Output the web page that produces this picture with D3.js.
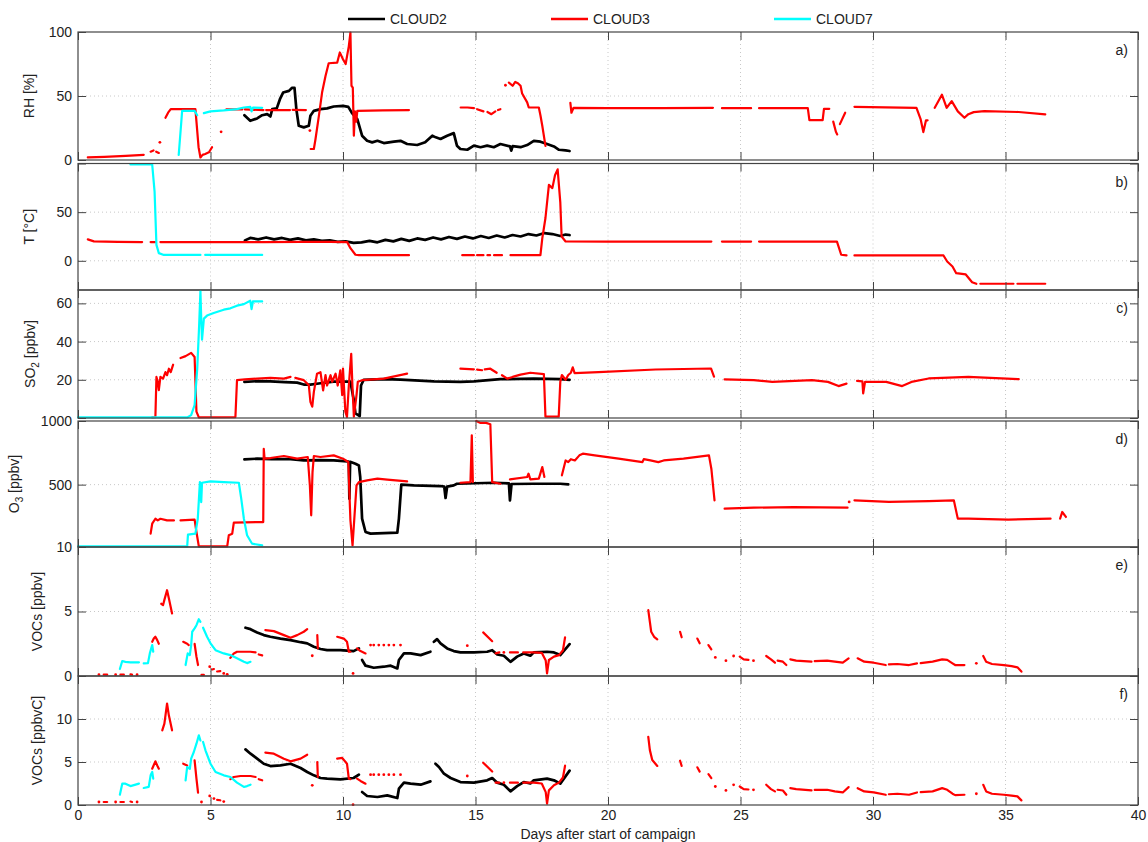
<!DOCTYPE html>
<html>
<head>
<meta charset="utf-8">
<script src="https://cdn.jsdelivr.net/npm/d3@7"></script>
<style>
  body { margin: 0; background: #fff; }
  text { font-family: "Liberation Sans", Arial, Helvetica, sans-serif; fill: #222; }
</style>
</head>
<body>
<svg id="chart" width="1148" height="842"></svg>
<script>

// series names and colours (legend order = draw order)
var seriesNames = ['CLOUD2', 'CLOUD3', 'CLOUD7'];
var seriesColors = ['#000000', '#ff0000', '#00ffff'];
var seriesWidths = [2.7, 2.2, 2.2];

var xTicks = [0, 5, 10, 15, 20, 25, 30, 35, 40];
var xLabel = 'Days after start of campaign';

// ---- a) RH [%] ----  [day, value], null = gap
var rhCloud2 = [[6.28,35],[6.5,30.6],[6.76,32.5],[6.95,35],[7.14,35.8],[7.26,34],[7.33,39.7],[7.5,40.3],[7.62,47.5],[7.74,52.7],[7.96,54],[8.08,56.4],[8.17,56.4],[8.24,39.7],[8.33,26.8],[8.52,25.5],[8.71,26.8],[8.77,34.5],[8.9,38.4],[9.15,39.7],[9.4,40.3],[9.65,41.8],[10.0,42.3],[10.2,41.5],[10.34,36.6],[10.54,32],[10.72,19],[10.91,15],[11.1,13.8],[11.3,15],[11.54,13.2],[11.92,14.3],[12.17,15],[12.42,12.5],[12.8,11.7],[13.1,13.8],[13.37,19],[13.5,17.7],[13.68,16.4],[13.93,19],[14.18,21],[14.3,11.2],[14.43,8.6],[14.69,8],[14.94,11.2],[15.19,10],[15.44,11.2],[15.69,10],[15.94,12.5],[16.3,10.6],[16.35,7.3],[16.4,10.8],[16.7,10],[16.95,11.7],[17.2,15],[17.45,14.3],[17.7,12.5],[17.96,10.6],[18.15,8],[18.4,7.5],[18.55,7]];
var rhCloud3 = [[0.37,2],[1.0,2.5],[1.8,3.2],[2.48,4],null,[2.74,6.5],[2.85,7.5],null,[2.95,6.5],[3.05,5.5],null,[3.09,13.8],null,
  [3.3,33],[3.4,37],[3.5,39.7],[4.43,39.7],[4.47,30],[4.55,10],[4.62,2],[4.7,4],[4.8,4.7],[4.94,6],[5.0,8],[5.06,10],null,[5.4,22],null,
  [5.6,39.5],[6.2,39.5],null,[6.3,39.5],[7.0,39],null,[7.1,39],[8.0,39],null,[8.1,39.2],[8.6,39],null,[8.75,23],null,
  [8.78,8.6],[8.9,8.6],[8.96,16],[9.09,34.5],[9.21,52.7],[9.34,65.7],[9.46,75.6],[9.78,76],[9.88,84],[10.0,78.7],[10.1,75],[10.22,89],[10.28,99.5],[10.32,58],[10.37,56.6],[10.39,38],[10.41,19],[10.45,38],[10.5,30],[10.54,38.4],[11.5,38.8],[12.49,39],null,
  [14.44,41],[14.7,41],[14.94,40.5],null,[15.06,39.7],[15.3,38],null,[15.45,37.5],[15.6,35.8],[15.75,38],null,[15.85,39],[15.94,39.7],null,
  [16.13,58.4],null,[16.26,60.5],[16.4,58],[16.5,61],[16.6,60],[16.7,58],[16.76,52],[16.95,45],[17.01,41],[17.39,41],[17.45,35],[17.52,26.8],[17.64,11],null,
  [18.58,44.7],[18.62,36.9],[18.7,40.8],[20,40.5],[22,40.5],[23.96,40.8],null,[24.3,40.5],[25.4,40.5],null,[25.7,40.5],[27.54,40.5],[27.6,31.2],[28.1,31.2],[28.15,40],[28.35,40],null,
  [28.5,30],[28.6,22],[28.65,20],null,[28.75,28],[28.95,36.9],null,
  [29.3,41.5],[31.64,40.8],[31.8,31.7],[31.9,21.8],[32.0,31],[32.06,31],null,
  [32.33,40.8],[32.6,51],[32.78,40.8],[32.97,46],[33.2,38],[33.45,33],[33.6,35.8],[33.8,37.4],[34.2,38.2],[35.5,37.5],[36.5,35.6]];
var rhCloud7 = [[3.8,3.9],[3.88,25],[3.93,38.4],[4.4,38.4],[4.5,35],null,[4.75,36.6],[5.0,38],[5.5,38.7],[6.0,39.7],[6.26,41],[6.5,41.5],[6.55,38],[6.6,41],[6.95,40.8]];

// ---- b) T [°C] ----
var tCloud2 = [[6.3,21],[6.5,23.5],[6.8,22],[7.1,24],[7.4,22],[7.7,23.5],[8.0,21.5],[8.3,23],[8.6,21],[8.9,22],[9.2,20.5],[9.5,21],[9.8,19.5],[10.1,20],[10.4,18.5],[10.7,19],[11.0,20.5],[11.3,19],[11.6,21.5],[11.9,20],[12.2,22.5],[12.5,20.5],[12.8,23],[13.1,21.5],[13.4,24],[13.7,22],[14.0,24.5],[14.3,22.5],[14.6,25],[14.9,23],[15.2,25.5],[15.5,23.5],[15.8,26],[16.1,24],[16.4,26.5],[16.7,25],[17.0,27.5],[17.3,26],[17.6,28.5],[17.9,27.5],[18.2,25.5],[18.4,27],[18.55,26.5]];
var tCloud3 = [[0.37,22],[0.6,20],[1.5,19.5],[2.42,19.3],null,[2.74,19.3],[2.92,19.3],null,[3.11,19.3],[5,19.2],[7,19.2],[8.4,19.5],[9.5,19.5],[10.16,19.2],[10.28,13],[10.47,6.2],[10.6,5.8],[12.49,5.8],null,
  [14.5,5.8],[14.94,5.8],null,[15.06,5.8],[15.3,5.8],null,[15.45,5.8],[15.55,5.8],null,[15.7,5.8],[16.0,5.8],null,[16.32,5.8],[17.45,5.8],[17.52,23],[17.64,44],[17.77,78],[17.9,74.7],[18.0,88],[18.1,94],[18.2,60],[18.25,25],[18.4,19.9],[20,19.8],[23.9,19.8],null,
  [24.3,19.8],[25.4,19.8],null,[25.7,19.8],[28.64,19.8],[28.8,6.2],[29.0,5.5],null,[29.3,5.5],[32.66,5.5],[32.8,-0.7],[33.0,-5.8],[33.14,-12.7],[33.5,-14],[33.74,-22],[33.9,-23.6],null,[34.05,-23.6],[35.3,-23.6],null,[35.45,-23.6],[36.5,-23.6]];
var tCloud7 = [[1.98,99],[2.8,99],[2.89,71],[2.96,16.4],[3.05,7.9],[3.24,6],[4.62,6],null,[4.8,6],[6.95,6]];

// ---- c) SO2 [ppbv] ----
var so2Cloud2 = [[6.28,18.9],[6.8,19.3],[7.26,19.2],[7.8,18.8],[8.27,18.5],[8.52,17.5],[8.77,17.5],[9.15,18.2],[9.65,19],[10.28,19],[10.4,10],[10.47,2.4],[10.63,1],[10.68,17],[10.78,20],[11.54,20.3],[12.17,20.1],[13.43,19.2],[14.43,18.9],[14.94,19.2],[15.94,20.3],[17.2,20.6],[18.2,20.3],[18.55,20]];
var so2Cloud3 = [[2.8,0.3],[2.92,0.4],[2.96,21.5],[3.01,19],[3.05,14.6],[3.11,21.5],[3.21,20.6],[3.3,24],[3.36,22.4],[3.43,25.8],[3.5,24],[3.59,27.9],null,
  [3.87,31.4],[4.06,32.4],[4.27,34.1],[4.4,31.9],[4.47,3.3],[4.56,0.3],[5.94,0.5],[6.0,19.8],[6.3,20.2],[6.76,20.6],[7.26,21],[7.77,20.6],[8.02,21.5],null,
  [8.2,21],[8.52,19.8],[8.71,17.2],[8.77,8.5],[8.84,5.9],[8.9,13.7],[9.02,23.2],[9.15,24],[9.25,14.5],[9.34,22.4],[9.4,17],[9.53,22.4],[9.59,19],[9.72,23.2],[9.8,17],[9.9,25],[9.97,12],[10.0,25.8],[10.09,3.3],[10.15,0.5],[10.22,17],[10.31,33.6],[10.36,15.4],[10.41,0.7],[10.51,12],[10.56,19],[10.72,19.8],[11.54,20.6],[12.42,23.2],null,
  [14.43,25.8],[14.94,25.5],null,[15.06,25.3],[15.25,25],null,[15.35,25.5],[15.56,25.8],[15.8,23.7],null,[16.0,22.4],[16.2,20.6],[16.4,21.5],[16.7,22.7],[17.07,23.7],[17.58,23],[17.64,0.7],[18.14,0.7],[18.2,19],[18.26,22.5],[18.4,20],[18.5,22.5],[18.6,23.7],[18.67,26.5],[18.74,23.5],[19.64,24],[21.8,25.4],[23.89,25.9],[24.0,21.6],null,
  [24.4,20.2],[25.5,19.8],[26.2,18.9],[27.7,19.8],[28.3,18.9],[28.7,16.7],[29.0,18],null,
  [29.4,19.4],[29.6,19.2],[29.63,12.9],[29.7,18.9],[30.5,18.9],[31.1,16.7],[31.45,18.9],[32.1,20.7],[33.6,21.5],[35.5,20.3]];
var so2Cloud7 = [[0,0.3],[4.12,0.3],[4.27,1.5],[4.4,6.8],[4.5,26],[4.57,48],[4.62,66.5],[4.65,52],[4.68,41],[4.75,52],[4.87,53.6],[5.12,55],[5.5,56.7],[5.75,57.4],[6.0,58.8],[6.26,59.6],[6.5,61.4],[6.55,57],[6.6,61],[6.95,61]];

// ---- d) O3 [ppbv] ----
var o3Cloud2 = [[6.28,698],[6.76,704],[7.3,700],[8.02,700],[8.52,690],[9.15,692],[9.65,690],[10.16,683],[10.22,680],[10.24,390],[10.27,680],[10.47,664],[10.6,651],[10.65,560],[10.72,233],[10.85,128],[11.04,115],[12.05,123],[12.11,233],[12.2,500],[12.67,494],[13.68,489],[13.82,485],[13.87,395],[13.93,485],[14.18,494],[14.3,507],[15.7,515],[16.26,510],[16.3,377],[16.36,505],[17.2,507],[18.2,507],[18.5,502]];
var o3Cloud3 = [[2.74,115],[2.8,193],[2.92,232],[3.01,219],[3.11,232],[3.36,219],[3.62,219],null,
  [3.87,219],[4.4,225],[4.47,128],[4.56,15],[5.63,15],[5.69,102],[5.82,115],[5.88,201],[6.76,206],[6.99,206],[7.01,782],[7.04,704],[7.26,709],[7.77,725],[8.27,704],[8.67,717],[8.75,494],[8.8,259],[8.85,599],[8.9,725],[9.15,717],[9.65,730],[10.0,704],[10.2,678],[10.28,220],[10.36,23],[10.51,494],[10.6,520],[10.91,533],[11.3,547],[11.67,540],[12.42,526],null,
  [14.43,515],[14.81,520],[14.86,887],[14.9,520],null,[15.03,1000],[15.19,985],[15.4,985],[15.56,975],[15.63,520],[15.94,507],null,
  [16.3,541],[16.95,560],[17.0,586],[17.07,541],[17.39,547],[17.52,638],[17.6,560],null,
  [18.26,573],[18.4,690],[18.5,677],[18.6,700],[18.75,690],[18.92,730],[19.05,743],[19.5,730],[20.4,704],[21.3,677],[21.35,700],[21.6,690],[21.9,677],[22.1,690],[22.85,704],[23.81,730],[23.9,625],[24.02,377],null,
  [24.4,311],[25.5,319],[27.0,324],[29.04,319],null,[29.1,364],null,
  [29.3,377],[30.6,364],[32.1,371],[33.05,377],[33.2,233],[33.6,233],[35.1,225],[36.7,233],null,
  [37.06,233],[37.14,285],[37.28,246]];
var o3Cloud7 = [[0,15],[4.12,15],[4.15,107],[4.43,115],[4.52,232],[4.6,520],[4.65,363],[4.68,515],[5.0,526],[5.5,520],[6.07,515],[6.16,390],[6.26,232],[6.38,102],[6.57,36],[6.95,23]];

// ---- e) VOCs [ppbv] ----
var vocCloud2 = [[6.32,3.74],[6.51,3.63],[6.76,3.37],[7.01,3.17],[7.26,3.04],[7.64,2.9],[8.02,2.78],[8.4,2.62],[8.65,2.53],[8.9,2.27],[9.15,2.09],[9.4,2.0],[9.9,2.0],[10.4,1.93],[10.6,2.14],null,
  [10.72,1.24],[10.85,0.8],[11.16,0.64],[11.54,0.72],[11.8,0.8],[12.05,0.59],[12.11,1.24],[12.3,1.75],[12.55,1.75],[12.93,1.62],[13.3,1.88],null,
  [13.43,2.65],[13.55,2.86],[13.68,2.53],[13.93,2.14],[14.18,1.93],[14.43,1.83],[14.94,1.83],[15.44,1.88],[15.63,2.0],[15.82,1.67],[16.07,1.57],[16.32,1.1],[16.57,1.5],[16.82,1.75],[17.07,1.57],[17.2,1.83],[17.7,1.88],[17.96,1.83],[18.2,1.62],[18.55,2.47]];
var vocCloud3 = [[0.79,0.1],null,[0.97,0.1],[1.1,0.1],null,[1.42,0.1],null,[1.6,0.1],[1.73,0.1],null,[1.98,0.12],[2.04,0.1],null,[2.23,0.1],null,
  [2.8,2.65],[2.86,2.9],[2.92,3.04],[2.99,2.78],[3.05,2.5],null,
  [3.14,5.6],[3.21,5.5],[3.26,5.9],[3.36,6.65],[3.43,6.0],[3.55,4.85],null,
  [3.97,2.65],[4.12,2.5],[4.18,2.4],null,[4.4,2.5],[4.47,1.5],[4.53,0.85],null,
  [4.66,0.08],[4.75,0.08],null,[4.97,0.72],null,[5.06,0.5],[5.13,0.54],null,[5.25,0.35],[5.37,0.38],null,[5.5,0.2],null,[5.63,0.13],null,
  [5.75,1.4],[5.88,1.75],[6.0,1.88],[6.5,1.88],[6.7,1.83],null,[6.82,1.67],[6.95,1.6],null,
  [7.07,3.55],[7.39,3.48],[7.77,3.17],[8.02,2.96],[8.27,3.17],[8.52,3.43],[8.65,3.63],null,
  [8.84,1.57],null,[9.03,3.17],[9.05,2.14],null,
  [9.78,3.04],[10.03,2.9],[10.15,2.65],[10.22,1.88],[10.28,1.88],null,[10.38,0.2],null,
  [10.53,2.14],[10.66,1.93],[10.85,1.75],null,
  [11.04,2.4],null,[11.16,2.4],null,[11.35,2.4],null,[11.54,2.4],null,[11.73,2.4],null,[11.92,2.4],null,[12.17,2.4],null,
  [14.69,2.35],null,[15.29,3.38],[15.63,2.7],null,
  [15.76,1.75],[15.9,1.83],null,[16.07,1.83],null,[16.3,1.83],[16.6,1.83],null,[16.8,1.83],[17.2,1.83],[17.5,1.8],[17.65,1.2],[17.7,0.2],[17.77,1.24],[17.96,1.5],[18.15,1.62],[18.3,2.0],[18.38,3.0],null,
  [21.52,5.1],[21.58,4.2],[21.63,3.43],[21.74,3.04],[21.86,2.84],null,
  [22.72,3.43],[22.78,3.0],null,[23.37,2.9],[23.46,2.53],null,[23.79,2.4],[23.9,2.06],null,[24.05,1.44],null,[24.45,1.19],null,
  [24.74,1.55],null,[24.97,1.5],[25.12,1.29],[25.3,1.25],null,[25.49,1.19],null,
  [25.97,1.55],[26.15,1.29],[26.3,1.03],null,[26.4,1.19],[26.6,1.11],[26.73,0.85],null,
  [26.88,1.29],[27.1,1.19],[27.68,1.11],null,[27.8,1.15],[28.27,1.19],[28.56,1.11],[28.86,1.03],[29.08,1.37],null,
  [29.42,1.37],[29.67,1.11],[30.03,1.03],[30.48,0.85],null,[30.6,0.9],[30.92,0.93],[31.36,0.85],[31.66,0.98],null,
  [31.8,1.0],[32.25,1.11],[32.61,1.29],[32.8,1.25],[33.0,0.98],[33.1,0.85],[33.45,0.85],null,[33.9,0.98],null,
  [34.16,1.55],[34.27,1.11],[34.49,0.93],[34.94,0.85],[35.23,0.77],[35.45,0.67],[35.6,0.34]];
var vocCloud7 = [[1.58,0.54],[1.67,1.16],[1.79,1.1],[1.98,1.06],[2.3,1.06],null,[2.48,0.98],[2.64,1.0],[2.71,1.75],[2.8,2.4],[2.84,1.88],null,
  [4.06,0.85],[4.14,1.75],[4.22,1.62],[4.27,2.4],[4.31,3.43],[4.4,3.69],[4.47,3.94],[4.56,4.4],[4.62,4.2],null,
  [4.72,3.74],[4.87,3.04],[5.0,2.53],[5.19,2.0],[5.5,1.75],[5.75,1.62],[6.0,1.37],[6.26,1.1],[6.38,1.0],[6.51,1.1]];

// ---- f) VOCs [ppbvC] ----
var vocCCloud2 = [[6.32,6.47],[6.51,5.97],[6.76,5.39],[7.01,4.8],[7.26,4.53],[7.64,4.6],[8.02,4.8],[8.4,4.3],[8.65,3.84],[8.9,3.45],[9.15,3.14],[9.4,3.06],[9.9,2.98],[10.4,3.14],[10.6,3.53],null,
  [10.72,1.51],[10.91,1.05],[11.3,0.93],[11.67,1.12],[12.05,0.81],[12.11,1.9],[12.3,2.6],[12.55,2.48],[12.93,2.36],[13.3,2.75],null,
  [13.49,4.8],[13.62,4.42],[13.81,3.64],[14.06,3.14],[14.43,2.67],[14.94,2.6],[15.44,2.87],[15.63,3.14],[15.82,2.6],[16.07,2.36],[16.32,1.59],[16.57,2.2],[16.82,2.67],[17.07,2.5],[17.2,2.87],[17.7,3.06],[17.96,2.87],[18.2,2.48],[18.55,4.0]];
var vocCCloud3 = [[0.79,0.35],null,[0.97,0.35],[1.1,0.35],null,[1.42,0.35],null,[1.6,0.35],[1.73,0.35],null,[1.98,0.4],[2.04,0.35],null,[2.23,0.35],null,
  [2.8,4.22],[2.92,5.08],[2.99,4.6],[3.05,4.22],null,
  [3.18,8.68],[3.26,9.46],[3.36,11.8],[3.43,10.4],[3.55,8.68],null,
  [3.97,4.8],[4.12,4.6],null,[4.4,5.2],[4.47,3.06],[4.53,1.43],null,
  [4.66,0.35],null,[4.97,1.05],null,[5.13,0.75],null,[5.25,0.6],[5.37,0.55],null,[5.5,0.4],null,
  [5.75,3.0],[5.88,3.26],[6.13,3.37],[6.51,3.37],[6.7,3.26],null,[6.82,3.0],[6.95,2.87],null,
  [7.07,6.08],[7.39,5.97],[7.77,5.39],[8.02,5.08],[8.4,5.39],[8.65,5.85],null,
  [8.84,2.29],null,[9.03,5.0],[9.05,3.26],null,
  [9.78,5.39],[9.97,5.47],[10.15,4.8],[10.22,3.06],[10.28,3.0],null,[10.38,0.04],null,
  [10.53,3.06],[10.66,2.8],[10.85,2.48],null,
  [11.04,3.53],null,[11.16,3.53],null,[11.35,3.53],null,[11.54,3.53],null,[11.73,3.53],null,[11.92,3.53],null,[12.17,3.53],null,
  [14.69,3.37],null,[15.29,4.92],[15.63,3.9],null,
  [15.76,2.6],[15.9,2.6],null,[16.07,2.6],null,[16.3,2.6],[16.6,2.6],null,[16.8,2.6],[17.2,2.6],[17.5,2.5],[17.65,1.5],[17.7,0.15],[17.77,1.7],[17.96,2.29],[18.15,2.6],[18.3,3.2],[18.38,4.57],null,
  [21.52,7.92],[21.58,6.38],[21.67,5.23],[21.86,4.54],null,[22.72,5.15],[22.78,4.54],null,
  [23.37,4.38],[23.46,3.88],null,[23.79,3.6],[23.9,3.12],null,[24.05,2.15],null,[24.45,1.69],null,
  [24.74,2.35],null,[24.97,2.15],[25.12,1.85],[25.3,1.8],null,[25.49,1.77],null,
  [25.97,2.35],[26.15,1.85],[26.3,1.58],null,[26.4,1.77],[26.6,1.69],[26.73,1.19],null,
  [26.88,1.96],[27.1,1.85],[27.68,1.69],null,[27.8,1.75],[28.27,1.77],[28.56,1.58],[28.86,1.46],[29.08,2.08],null,
  [29.42,1.96],[29.67,1.58],[30.03,1.46],[30.48,1.19],null,[30.6,1.25],[30.92,1.31],[31.36,1.19],[31.66,1.46],null,
  [31.8,1.5],[32.25,1.58],[32.61,1.96],[32.8,1.77],[33.0,1.31],[33.1,1.15],[33.45,1.19],null,[33.9,1.31],null,
  [34.16,2.35],[34.27,1.58],[34.49,1.31],[34.94,1.19],[35.23,1.08],[35.45,1.0],[35.6,0.54]];
var vocCCloud7 = [[1.58,1.2],[1.67,2.48],[1.79,2.48],[1.98,2.2],[2.3,2.48],null,[2.48,1.98],[2.67,2.1],[2.74,3.45],[2.8,3.84],[2.84,3.06],null,
  [4.06,2.87],[4.12,4.42],[4.22,4.2],[4.27,5.4],[4.37,6.16],[4.47,7.13],[4.56,8.1],[4.62,7.5],null,
  [4.72,7.33],[4.81,6.36],[5.0,4.8],[5.19,3.84],[5.5,3.45],[5.75,3.26],[6.0,2.6],[6.26,2.1],[6.38,2.2],[6.51,2.36]];


var svg = d3.select('#chart');
var left = 78, right = 1138;

var x = d3.scaleLinear().domain([0, 40]).range([left, right]);

// one entry per stacked axis
var panels = [
  { top: 32,    bottom: 160, domain: [0, 100],   ticks: [0, 50, 100],   labels: [0, 50, 100], tag: 'a)', title: ['RH [%]'],              tx: 34, series: [rhCloud2, rhCloud3, rhCloud7] },
  { top: 163.5, bottom: 290, domain: [-30, 100], ticks: [0, 50, 100],   labels: [0, 50],      tag: 'b)', title: ['T [°C]'],              tx: 34, series: [tCloud2, tCloud3, tCloud7] },
  { top: 290,   bottom: 418, domain: [0, 67],    ticks: [0, 20, 40, 60], labels: [20, 40, 60], tag: 'c)', title: ['SO', '2', ' [ppbv]'],  tx: 35, series: [so2Cloud2, so2Cloud3, so2Cloud7] },
  { top: 421,   bottom: 547, domain: [10, 1000], ticks: [10, 500, 1000], labels: [10, 500, 1000], tag: 'd)', title: ['O', '3', ' [ppbv]'], tx: 19, series: [o3Cloud2, o3Cloud3, o3Cloud7] },
  { top: 547,   bottom: 676, domain: [0, 10],    ticks: [0, 5, 10],     labels: [0, 5],       tag: 'e)', title: ['VOCs [ppbv]'],         tx: 42, series: [vocCloud2, vocCloud3, vocCloud7] },
  { top: 676,   bottom: 805, domain: [0, 15],    ticks: [0, 5, 10, 15], labels: [0, 5, 10],   tag: 'f)', title: ['VOCs [ppbvC]'],        tx: 42, series: [vocCCloud2, vocCCloud3, vocCCloud7] }
];

// split a [day,value]/null list into runs
function runs(arr) {
  var out = [], cur = [];
  arr.forEach(function(p) {
    if (p === null) { if (cur.length) out.push(cur); cur = []; }
    else cur.push(p);
  });
  if (cur.length) out.push(cur);
  return out;
}

panels.forEach(function(p, pi) {
  var y = d3.scaleLinear().domain(p.domain).range([p.bottom, p.top]);
  var g = svg.append('g');

  // dotted grid
  g.selectAll('.vgrid').data(xTicks.slice(1, -1)).enter().append('line')
      .attr('x1', function(d) { return x(d); }).attr('x2', function(d) { return x(d); })
      .attr('y1', p.top).attr('y2', p.bottom)
      .attr('stroke', '#c8c8c8').attr('stroke-width', 1).attr('stroke-dasharray', '1,3');
  g.selectAll('.hgrid').data(p.ticks.filter(function(t) { return y(t) > p.top + 1 && y(t) < p.bottom - 1; })).enter().append('line')
      .attr('x1', left).attr('x2', right)
      .attr('y1', function(d) { return y(d); }).attr('y2', function(d) { return y(d); })
      .attr('stroke', '#c8c8c8').attr('stroke-width', 1).attr('stroke-dasharray', '1,3');

  // data lines, black then red then cyan on top
  var line = d3.line().x(function(d) { return x(d[0]); }).y(function(d) { return y(d[1]); });
  p.series.forEach(function(s, si) {
    var parts = runs(s);
    g.selectAll(null).data(parts.filter(function(r) { return r.length > 1; })).enter().append('path')
        .attr('d', line)
        .attr('fill', 'none')
        .attr('stroke', seriesColors[si])
        .attr('stroke-width', seriesWidths[si])
        .attr('stroke-linejoin', 'round')
        .attr('stroke-linecap', 'round');
    g.selectAll(null).data(parts.filter(function(r) { return r.length === 1; })).enter().append('circle')
        .attr('cx', function(r) { return x(r[0][0]); })
        .attr('cy', function(r) { return y(r[0][1]); })
        .attr('r', 1.4)
        .attr('fill', seriesColors[si]);
  });

  // inward ticks on all four sides
  var ax = [
    { a: d3.axisLeft(y).tickValues(p.ticks).tickSize(-8).tickPadding(6).tickFormat(function(d) { return p.labels.indexOf(d) >= 0 ? d : ''; }), t: 'translate(' + left + ',0)' },
    { a: d3.axisRight(y).tickValues(p.ticks).tickSize(-8).tickFormat(''), t: 'translate(' + right + ',0)' },
    { a: d3.axisTop(x).tickValues(xTicks).tickSize(-8).tickFormat(''), t: 'translate(0,' + p.top + ')' },
    { a: d3.axisBottom(x).tickValues(xTicks).tickSize(-8).tickPadding(5).tickFormat(pi === panels.length - 1 ? d3.format('d') : ''), t: 'translate(0,' + p.bottom + ')' }
  ];
  ax.forEach(function(o) {
    var gg = g.append('g').attr('transform', o.t).call(o.a);
    gg.select('.domain').remove();
    gg.selectAll('.tick line').attr('stroke', '#444').attr('stroke-width', 1);
    gg.selectAll('.tick text').attr('font-size', 14).attr('fill', '#222')
      .style('font-family', '"Liberation Sans", Arial, sans-serif');
  });

  // box
  g.append('rect')
      .attr('x', left).attr('y', p.top)
      .attr('width', right - left).attr('height', p.bottom - p.top)
      .attr('fill', 'none').attr('stroke', '#444').attr('stroke-width', 1.2);

  // panel tag
  g.append('text').attr('x', 1128).attr('y', p.top + 23)
      .attr('text-anchor', 'end').attr('font-size', 14).text(p.tag);

  // y title, rotated, with optional subscript
  var ty = (p.top + p.bottom) / 2;
  var tt = g.append('text')
      .attr('transform', 'translate(' + p.tx + ',' + ty + ') rotate(-90)')
      .attr('text-anchor', 'middle').attr('font-size', 14);
  if (p.title.length === 1) {
    tt.text(p.title[0]);
  } else {
    tt.append('tspan').text(p.title[0]);
    tt.append('tspan').attr('dy', 4).attr('font-size', 10).text(p.title[1]);
    tt.append('tspan').attr('dy', -4).text(p.title[2]);
  }
});

// x axis title
svg.append('text').attr('x', (left + right) / 2).attr('y', 839)
    .attr('text-anchor', 'middle').attr('font-size', 14).text(xLabel);

// legend
var legendX = [348, 551, 774];
seriesNames.forEach(function(name, i) {
  svg.append('line')
      .attr('x1', legendX[i]).attr('x2', legendX[i] + 37)
      .attr('y1', 19).attr('y2', 19)
      .attr('stroke', seriesColors[i]).attr('stroke-width', 2.5);
  svg.append('text').attr('x', legendX[i] + 42).attr('y', 24)
      .attr('font-size', 14).text(name);
});

</script>
</body>
</html>
